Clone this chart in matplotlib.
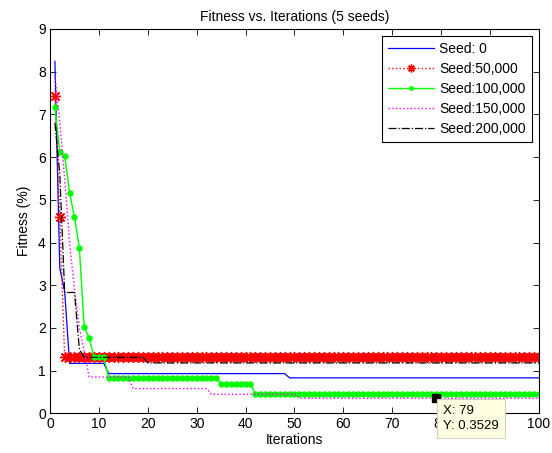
import numpy as np
import matplotlib.pyplot as plt

plt.rcParams['font.family'] = ['Liberation Sans', 'DejaVu Sans']

# Fitness per iteration, stored as (value, run length) pairs
seed0_vals = [8.24, 3.40, 2.85, 1.17, 0.93, 0.83]
seed0_runs = [1, 1, 1, 8, 37, 52]

seed50k_vals = [7.43, 4.60, 1.31]
seed50k_runs = [1, 1, 98]

seed100k_vals = [7.18, 6.12, 6.02, 5.17, 4.59, 3.88, 2.01, 1.77, 1.31, 0.83, 0.69, 0.46]
seed100k_runs = [1, 1, 1, 1, 1, 1, 1, 1, 3, 23, 7, 59]

seed150k_vals = [7.90, 6.80, 5.50, 4.00, 2.90, 2.00, 1.45, 0.85, 0.58, 0.445, 0.3529]
seed150k_runs = [1, 1, 1, 1, 1, 1, 1, 9, 16, 18, 50]

seed200k_vals = [6.80, 5.60, 2.83, 1.50, 1.31, 1.18]
seed200k_runs = [1, 1, 3, 1, 13, 81]

labels = ['Seed: 0', 'Seed:50,000', 'Seed:100,000', 'Seed:150,000', 'Seed:200,000']

tip_x = 79
tip_y = 0.3529

iters = np.arange(1, 101)
seed0 = np.repeat(seed0_vals, seed0_runs)
seed50k = np.repeat(seed50k_vals, seed50k_runs)
seed100k = np.repeat(seed100k_vals, seed100k_runs)
seed150k = np.repeat(seed150k_vals, seed150k_runs)
seed200k = np.repeat(seed200k_vals, seed200k_runs)

fig = plt.figure(figsize=(5.52, 4.53), dpi=100)
ax = fig.add_axes([0.0906, 0.0876, 0.8858, 0.8484])

ax.plot(iters, seed0, '-', color='#0000ff', linewidth=0.9, label=labels[0])
ax.plot(iters, seed50k, ':', color='#ff0000', linewidth=1.0, marker=(8, 2, 0),
        markersize=8, markeredgewidth=1.0, label=labels[1])
ax.plot(iters, seed100k, '-', color='#00ff00', linewidth=1.0, marker='o',
        markersize=3.6, label=labels[2])
ax.plot(iters, seed150k, ':', color='#ff00ff', linewidth=1.0, label=labels[3])
ax.plot(iters, seed200k, '-.', color='black', linewidth=0.9, label=labels[4])

# data cursor
ax.plot([tip_x], [tip_y], 's', color='black', markersize=6, zorder=6)
ax.annotate(f'X: {tip_x}\nY: {tip_y}', xy=(tip_x, tip_y), xytext=(5, -5),
            textcoords='offset points', ha='left', va='top', fontsize=9.5,
            linespacing=1.35, annotation_clip=False, zorder=7,
            bbox=dict(boxstyle='square,pad=0.45', facecolor='#ffffe1',
                      edgecolor='#d0d0c0', linewidth=0.8))

ax.set_xlim(0, 100)
ax.set_ylim(0, 9)
ax.set_xticks(range(0, 101, 10))
ax.set_yticks(range(0, 10))
ax.tick_params(direction='in', top=True, right=True, length=4, width=0.6,
               labelsize=10, pad=3)
for spine in ax.spines.values():
    spine.set_linewidth(0.8)

ax.set_title('Fitness vs. Iterations (5 seeds)', fontsize=10, pad=6)
ax.set_xlabel('Iterations', fontsize=10, labelpad=1)
ax.set_ylabel('Fitness (%)', fontsize=10, labelpad=5)

leg = ax.legend(loc='upper right', fontsize=10, fancybox=False, framealpha=1,
                edgecolor='black', borderpad=0.45, labelspacing=0.42,
                handlelength=3.3, handletextpad=0.4, borderaxespad=0.5,
                markerscale=0.7)
leg.get_frame().set_linewidth(0.8)

fig.savefig('out.png', dpi=100)
